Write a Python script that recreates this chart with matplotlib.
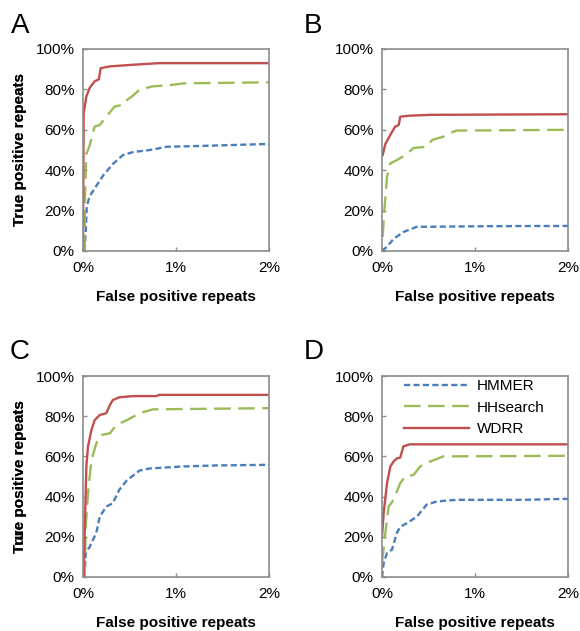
import matplotlib
matplotlib.use("Agg")
import matplotlib.pyplot as plt
from matplotlib.ticker import FuncFormatter

plt.rcParams['font.family'] = ['Liberation Sans', 'DejaVu Sans']

# ---- data: x = false positive repeats (%), y = true positive repeats (%) ----
a_hmmer_x = [0.018, 0.03, 0.04, 0.07, 0.14, 0.22, 0.32, 0.43, 0.54, 0.72, 0.90, 1.26, 2.0]
a_hmmer_y = [0, 10, 22, 27, 32, 37.6, 43, 47.5, 49, 50, 51.6, 52, 53]
a_hh_x = [0.018, 0.02, 0.036, 0.07, 0.125, 0.18, 0.25, 0.34, 0.43, 0.48, 0.54, 0.61, 0.75, 0.97, 1.08, 2.0]
a_hh_y = [0, 25, 48, 52, 61.6, 62.4, 66.5, 71.5, 72.4, 75, 77, 80, 81.5, 82.3, 83, 83.5]
a_wdrr_x = [0.0, 0.007, 0.036, 0.07, 0.125, 0.17, 0.19, 0.29, 0.54, 0.82, 2.0]
a_wdrr_y = [0, 68, 76.5, 80.6, 84, 85, 90.5, 91.4, 92.2, 93, 93]

b_hmmer_x = [0.0, 0.05, 0.125, 0.23, 0.375, 0.52, 1.16, 2.0]
b_hmmer_y = [0, 2, 6, 9.4, 12, 12, 12.3, 12.4]
b_hh_x = [0.007, 0.025, 0.054, 0.09, 0.16, 0.25, 0.34, 0.48, 0.54, 0.66, 0.73, 0.80, 2.0]
b_hh_y = [7, 20, 36.8, 43.4, 45, 47.5, 51, 51.6, 55, 56.6, 58.3, 59.6, 60]
b_wdrr_x = [0.007, 0.036, 0.09, 0.14, 0.18, 0.196, 0.30, 0.52, 2.0]
b_wdrr_y = [47.5, 53, 57.5, 61.5, 62.4, 66.5, 67, 67.4, 67.7]

c_hmmer_x = [0.018, 0.029, 0.072, 0.143, 0.18, 0.25, 0.32, 0.39, 0.47, 0.61, 0.72, 1.08, 1.43, 2.0]
c_hmmer_y = [0, 12, 15, 22, 30, 35, 36.7, 43.4, 48, 53, 54, 55, 55.5, 55.8]
c_hh_x = [0.018, 0.029, 0.054, 0.09, 0.143, 0.197, 0.29, 0.36, 0.47, 0.61, 0.75, 2.0]
c_hh_y = [0, 25, 41.7, 58, 66.5, 70.7, 71.5, 75.7, 78, 81.5, 83.4, 84]
c_wdrr_x = [0.007, 0.022, 0.036, 0.054, 0.09, 0.125, 0.18, 0.25, 0.29, 0.32, 0.39, 0.54, 0.79, 0.82, 2.0]
c_wdrr_y = [0, 28.5, 55, 65, 73, 78, 80.6, 81.5, 85.6, 88, 89.4, 90, 90, 90.6, 90.6]

d_hmmer_x = [0.0, 0.018, 0.054, 0.107, 0.16, 0.196, 0.268, 0.375, 0.48, 0.59, 0.80, 1.52, 2.0]
d_hmmer_y = [0, 7, 12, 13.6, 21.9, 25, 26.8, 30, 36, 37.6, 38.4, 38.4, 38.9]
d_hh_x = [0.0, 0.036, 0.071, 0.125, 0.196, 0.25, 0.34, 0.41, 0.52, 0.66, 2.0]
d_hh_y = [7, 22, 35, 38.4, 46.7, 50, 50.8, 55, 57.5, 60, 60.3]
d_wdrr_x = [0.0, 0.018, 0.054, 0.09, 0.125, 0.16, 0.196, 0.23, 0.30, 2.0]
d_wdrr_y = [20, 31.8, 46.7, 55, 57.5, 59, 59.4, 65, 66, 66]

panels = [
    ("A", "True positive repeats", (a_hmmer_x, a_hmmer_y), (a_hh_x, a_hh_y), (a_wdrr_x, a_wdrr_y)),
    ("B", "True positive repeats", (b_hmmer_x, b_hmmer_y), (b_hh_x, b_hh_y), (b_wdrr_x, b_wdrr_y)),
    ("C", "Ture positive repeats", (c_hmmer_x, c_hmmer_y), (c_hh_x, c_hh_y), (c_wdrr_x, c_wdrr_y)),
    ("D", "True positive repeats", (d_hmmer_x, d_hmmer_y), (d_hh_x, d_hh_y), (d_wdrr_x, d_wdrr_y)),
]
series_names = ["HMMER", "HHsearch", "WDRR"]
x_ticks = [0, 1, 2]
y_ticks = [0, 20, 40, 60, 80, 100]

colors = ["#4a7ebb", "#9bbb59", "#c0504d"]
W, H = 580, 631
fig = plt.figure(figsize=(W / 100, H / 100), dpi=100)

# axes boxes in pixels: (left, top, right, bottom)
boxes = [(83, 49, 269, 251), (382, 49, 568, 251), (83, 376, 269, 577), (382, 376, 568, 577)]
letter_pos = [(11, 33), (304, 33), (10, 359), (304, 359)]

spine_col = "#8c8c8c"
pct = FuncFormatter(lambda v, p: f"{v:.0f}%")

for i, (letter, ylab, hm, hh, wd) in enumerate(panels):
    l, t, r, b = boxes[i]
    ax = fig.add_axes([l / W, 1 - b / H, (r - l) / W, (b - t) / H])
    lw = 1.7
    ax.plot(hm[0], hm[1], color=colors[0], lw=lw, linestyle=(0, (2.6, 1.4)), label=series_names[0])
    ax.plot(hh[0], hh[1], color=colors[1], lw=lw, linestyle=(0, (7, 3.2)), label=series_names[1])
    ax.plot(wd[0], wd[1], color=colors[2], lw=lw, linestyle="-", label=series_names[2])
    ax.set_xlim(0, 2)
    ax.set_ylim(0, 100)
    ax.set_xticks(x_ticks)
    ax.set_yticks(y_ticks)
    ax.xaxis.set_major_formatter(pct)
    ax.yaxis.set_major_formatter(pct)
    for s in ax.spines.values():
        s.set_color(spine_col)
        s.set_linewidth(1.2)
    ax.tick_params(direction="in", length=3, width=1, color=spine_col, labelsize=11,
                   labelcolor="black")
    ax.tick_params(axis="x", pad=7)
    ax.tick_params(axis="y", pad=6)
    ax.set_xlabel("False positive repeats", fontsize=11, fontweight="bold")
    ax.set_ylabel(ylab, fontsize=11, fontweight="bold")
    ax.xaxis.set_label_coords(0.5, -39 / (b - t))
    ax.yaxis.set_label_coords((27 - l) / (r - l), 0.5)
    fig.text(letter_pos[i][0] / W, 1 - letter_pos[i][1] / H, letter, fontsize=20,
             ha="left", va="baseline")
    if letter == "D":
        ax.legend(loc="upper left", bbox_to_anchor=(0.1, 1.0), frameon=False,
                  fontsize=11, handlelength=4.3, handletextpad=0.5, labelspacing=0.5,
                  borderpad=0.2, borderaxespad=0)

fig.savefig("out.png", dpi=100)
